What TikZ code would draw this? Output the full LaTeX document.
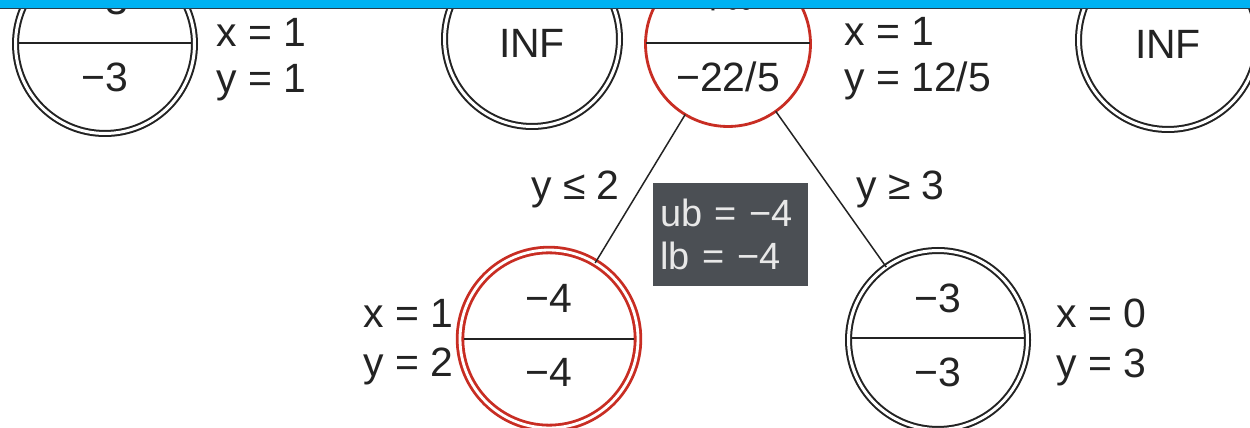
\documentclass[tikz,border=0pt]{standalone}
\usepackage{fontspec}
\setmainfont{Liberation Sans}
\definecolor{ink}{RGB}{35,35,35}
\definecolor{nodered}{RGB}{200,45,35}
\definecolor{boxgray}{RGB}{75,79,84}
\definecolor{boxtext}{RGB}{232,232,232}
\definecolor{barblue}{RGB}{0,178,242}
\definecolor{barline}{RGB}{40,60,75}
\begin{document}
\begin{tikzpicture}[x=0.02cm,y=-0.02cm,
  every node/.style={text=ink, font=\fontsize{23.3}{25}\selectfont},
  bnode/.style={circle, draw=ink, double=white, double distance=1.7pt, line width=1.15pt, inner sep=0pt, outer sep=0pt},
  rdnode/.style={circle, draw=nodered, double=white, double distance=1.6pt, line width=1.6pt, inner sep=0pt, outer sep=0pt},
  rnode/.style={circle, draw=nodered, line width=1.6pt, inner sep=0pt, outer sep=0pt},
  split/.style={draw=ink, line width=1.2pt},
  edge/.style={draw=ink, line width=0.85pt},
  val/.style={anchor=base},
  lbl/.style={anchor=base west},
  infobox/.style={fill=boxgray, minimum width=3.1cm, minimum height=2.06cm, inner xsep=4pt, text width=3.1cm-8pt, align=left, font=\fontsize{21.6}{24.5}\selectfont, text=boxtext}
]
\useasboundingbox (0,0) rectangle (1250,428);
\clip (0,0) rectangle (1250,428);
\fill[white] (0,0) rectangle (1250,428);

% circles
\node[bnode, minimum size=3.58cm] (A) at (105,44) {};
\node[bnode, minimum size=3.5cm] (B) at (532,39) {};
\node[rnode, minimum size=3.3cm] (R) at (728,44) {};
\node[bnode, minimum size=3.58cm] (C) at (1168,40) {};
\node[rdnode, minimum size=3.56cm] (L) at (549,339) {};
\node[bnode, minimum size=3.58cm] (D) at (938,340) {};

% split lines
\draw[split] (A.center) ++(-86,-1) -- ++(172,0);
\draw[split] (R.center) ++(-82,-1) -- ++(164,0);
\draw[split] (L.center) ++(-85,0) -- ++(170,0);
\draw[split] (D.center) ++(-86,-2) -- ++(172,0);

% edges
\draw[edge] (R) -- (L);
\draw[edge] (R) -- (D);

% values
\node[val] (a1) at (105,15) {−3};
\node[val] (a2) at (105,92) {−3};
\node[val] (b1) at (532,58) {INF};
\node[val] (r1) at (728,15) {+∞};
\node[val] (r2) at (728,92) {−22/5};
\node[val] (c1) at (1168,59) {INF};
\node[val] (l1) at (549,313) {−4};
\node[val] (l2) at (549,387) {−4};
\node[val] (d1) at (938,313) {−3};
\node[val] (d2) at (938,387) {−3};

% side labels
\node[lbl] (ax) at (210,47) {x = 1};
\node[lbl] (ay) at (210,93) {y = 1};
\node[lbl] (rx) at (838,46) {x = 1};
\node[lbl] (ry) at (838,92) {y = 12/5};
\node[lbl] (lx) at (357,328) {x = 1};
\node[lbl] (ly) at (357,377) {y = 2};
\node[lbl] (dx) at (1050,328) {x = 0};
\node[lbl] (dy) at (1050,378) {y = 3};

% edge labels
\node[lbl] (e1) at (525,200) {y ≤ 2};
\node[lbl] (e2) at (850,200) {y ≥ 3};

% info box
\node[infobox] (box) at (730.5,234.5) {ub = −4\\lb = −4};

% top bar
\fill[barblue] (0,0) rectangle (1250,8);
\draw[barline, line width=0.6pt] (0,8.5) -- (1250,8.5);
\end{tikzpicture}
\end{document}
